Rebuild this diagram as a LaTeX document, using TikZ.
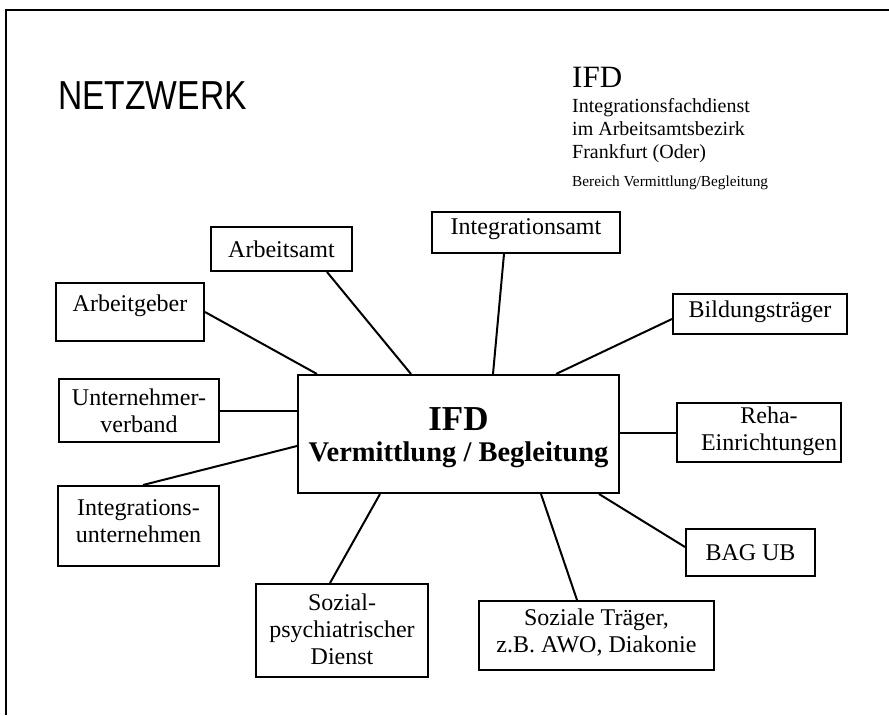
\documentclass[tikz,border=0pt]{standalone}
\usepackage{fontspec}
\setmainfont{Liberation Serif}
\newfontfamily\titlefont{Liberation Sans}
\usepackage{graphicx}
\usepackage{tikz}

\tikzset{
  partner/.style={draw,line width=2pt,inner sep=2pt,align=center,
    font=\fontsize{24}{27}\selectfont},
  link/.style={line width=2pt},
  headtext/.style={anchor=base west,inner sep=0pt},
}
\newcommand{\lowpad}[1]{\rule[-#1]{0pt}{#1}}

\begin{document}
\begin{tikzpicture}[x=1pt,y=-1pt]
  \useasboundingbox (0,0) rectangle (889,715);
  % frame
  \draw[line width=2.5pt] (6,715) -- (6,10) -- (889,10);
  % heading
  \node[headtext,font=\titlefont\fontsize{40.5}{40.5}\selectfont] (title) at (58,109)
    {\scalebox{0.83}[1]{NETZWERK}};
  \node[headtext,font=\fontsize{31}{31}\selectfont] (ifdhead) at (572,87) {IFD};
  % base of a multi-line node = its last line
  \node[headtext,align=left,font=\fontsize{20}{23}\selectfont] (ifdname) at (572,158)
    {Integrationsfachdienst\\im Arbeitsamtsbezirk\\Frankfurt (Oder)};
  \node[headtext,font=\fontsize{15.3}{18}\selectfont] (ifdarea) at (572,186)
    {Bereich Vermittlung/Begleitung};

  % centre
  \node[partner,minimum width=321pt,minimum height=118pt,
    font=\bfseries\fontsize{28.5}{31}\selectfont] (ifd) at (458.5,434)
    {{\fontsize{35}{31}\selectfont\rule{0pt}{31pt}IFD}\\Vermittlung / Begleitung};

  % partners
  \node[partner,minimum width=141pt,minimum height=44pt] (arbeitsamt) at (281.5,249) {Arbeitsamt};
  \node[partner,minimum width=188pt,minimum height=41pt] (integrationsamt) at (526,232.5)
    {Integrationsamt\lowpad{11pt}};
  \node[partner,minimum width=148pt,minimum height=58pt] (arbeitgeber) at (130,312)
    {Arbeitgeber\lowpad{18pt}};
  \node[partner,minimum width=174pt,minimum height=40pt] (bildung) at (760,314)
    {Bildungsträger\lowpad{10pt}};
  \node[partner,minimum width=160pt,minimum height=63pt] (unternehmer) at (139,410.5)
    {Unternehmer-\\verband};
  \node[partner,minimum width=164pt,minimum height=59pt] (reha) at (759,432.5)
    {\hspace*{20pt}Reha-\\\hspace*{20pt}Einrichtungen\lowpad{8pt}};
  \node[partner,minimum width=161pt,minimum height=80pt] (integrationsu) at (138.5,526)
    {Integrations-\\unternehmen\lowpad{9pt}};
  \node[partner,minimum width=129pt,minimum height=47pt] (bag) at (750.5,552.5) {BAG UB};
  \node[partner,minimum width=172pt,minimum height=93pt] (sozial) at (342,630.5)
    {Sozial-\\psychiatrischer\\Dienst\lowpad{3pt}};
  \node[partner,minimum width=235pt,minimum height=69pt] (soziale) at (596.5,635.5)
    {Soziale Träger,\\z.B. AWO, Diakonie\lowpad{10pt}};

  % links
  \draw[link] (arbeitgeber.east) -- ([xshift=20pt]ifd.north west);
  \draw[link] ([xshift=45.5pt]arbeitsamt.south) -- ([xshift=114pt]ifd.north west);
  \draw[link] ([xshift=-22pt]integrationsamt.south) -- ([xshift=34.5pt]ifd.north);
  \draw[link] ([yshift=-5pt]bildung.west) -- ([xshift=-64pt]ifd.north east);
  \draw[link] (unternehmer.east) -- (unternehmer.east -| ifd.west);
  \draw[link] ([xshift=4.5pt]integrationsu.north) -- ([yshift=-12pt]ifd.west);
  \draw[link] (reha.west -| ifd.east) -- (reha.west);
  \draw[link] ([xshift=-21pt]ifd.south east) -- ([yshift=5.5pt]bag.west);
  \draw[link] ([xshift=82.5pt]ifd.south) -- ([xshift=-19.5pt]soziale.north);
  \draw[link] ([xshift=-78.5pt]ifd.south) -- ([xshift=-12pt]sozial.north);
\end{tikzpicture}
\end{document}
